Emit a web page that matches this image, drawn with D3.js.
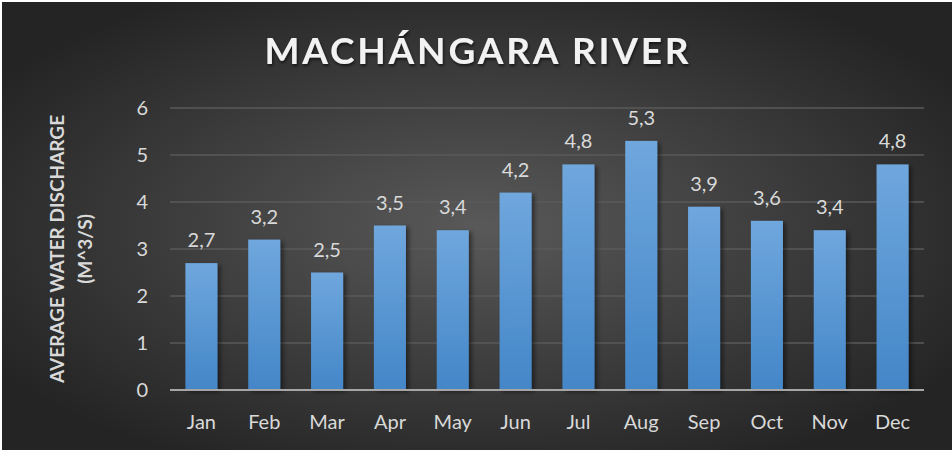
<!DOCTYPE html>
<html>
<head>
<meta charset="utf-8">
<script src="https://cdn.jsdelivr.net/npm/d3@7"></script>
<style>
  body { margin: 0; background: #fff; }
  svg { display: block; }
  text { font-family: Lato, "Open Sans", sans-serif; }
</style>
</head>
<body>
<script>
// data
var months = ["Jan", "Feb", "Mar", "Apr", "May", "Jun", "Jul", "Aug", "Sep", "Oct", "Nov", "Dec"];
var discharge = [2.7, 3.2, 2.5, 3.5, 3.4, 4.2, 4.8, 5.3, 3.9, 3.6, 3.4, 4.8];
var yTicks = [0, 1, 2, 3, 4, 5, 6];

var W = 952, H = 452;
var margin = {top: 108, right: 28, bottom: 62, left: 170};
var width = W - margin.left - margin.right;
var height = H - margin.top - margin.bottom;

var svg = d3.select("body").append("svg")
    .attr("width", W)
    .attr("height", H);

var defs = svg.append("defs");

var bg = defs.append("radialGradient")
    .attr("id", "bg")
    .attr("cx", "50%").attr("cy", "50%").attr("r", "60%");
bg.append("stop").attr("offset", "0%").attr("stop-color", "#595959");
bg.append("stop").attr("offset", "100%").attr("stop-color", "#242424");

var barGrad = defs.append("linearGradient")
    .attr("id", "barGrad")
    .attr("x1", 0).attr("y1", 0).attr("x2", 0).attr("y2", 1);
barGrad.append("stop").attr("offset", "0%").attr("stop-color", "#6fa7dd");
barGrad.append("stop").attr("offset", "100%").attr("stop-color", "#4486c8");

var shadow = defs.append("filter").attr("id", "shadow")
    .attr("x", "-20%").attr("y", "-20%").attr("width", "160%").attr("height", "140%");
shadow.append("feDropShadow")
    .attr("dx", 3).attr("dy", 2).attr("stdDeviation", 2)
    .attr("flood-color", "#000").attr("flood-opacity", 0.45);

var titleShadow = defs.append("filter").attr("id", "tshadow")
    .attr("x", "-10%").attr("y", "-30%").attr("width", "120%").attr("height", "160%");
titleShadow.append("feDropShadow")
    .attr("dx", 1).attr("dy", 2).attr("stdDeviation", 1.5)
    .attr("flood-color", "#000").attr("flood-opacity", 0.6);

svg.append("rect")
    .attr("x", 2).attr("y", 2)
    .attr("width", W - 2).attr("height", H - 4)
    .attr("fill", "url(#bg)");

// title
svg.append("text")
    .attr("x", 478).attr("y", 64)
    .attr("text-anchor", "middle")
    .attr("fill", "#f2f2f2")
    .attr("font-size", 37)
    .attr("font-weight", "bold")
    .attr("letter-spacing", 2.8)
    .attr("filter", "url(#tshadow)")
    .text("MACHÁNGARA RIVER");

var g = svg.append("g")
    .attr("transform", "translate(" + margin.left + "," + margin.top + ")");

var x = d3.scaleBand()
    .domain(months)
    .range([0, width])
    .paddingInner(0.49)
    .paddingOuter(0.245);

var y = d3.scaleLinear()
    .domain([0, 6])
    .range([height, 0]);

// gridlines
g.selectAll(".grid")
    .data(yTicks.filter(function(d) { return d > 0; }))
    .enter().append("line")
    .attr("x1", 0).attr("x2", width)
    .attr("y1", function(d) { return y(d); })
    .attr("y2", function(d) { return y(d); })
    .attr("stroke", "#5a5a5a")
    .attr("stroke-width", 1.3);

// y axis labels
var yAxis = g.append("g")
    .attr("transform", "translate(-22,0)")
    .call(d3.axisLeft(y).tickValues(yTicks).tickFormat(d3.format("d")).tickSize(0).tickPadding(0));
yAxis.select(".domain").remove();
yAxis.selectAll("text")
    .attr("fill", "#d9d9d9")
    .attr("font-size", 20)
    .attr("font-family", "Lato, 'Open Sans', sans-serif");

// bars
g.selectAll(".bar")
    .data(discharge)
    .enter().append("rect")
    .attr("x", function(d, i) { return x(months[i]); })
    .attr("y", function(d) { return y(d); })
    .attr("width", x.bandwidth())
    .attr("height", function(d) { return height - y(d); })
    .attr("fill", "url(#barGrad)")
    .attr("filter", "url(#shadow)");

// data labels
g.selectAll(".lbl")
    .data(discharge)
    .enter().append("text")
    .attr("x", function(d, i) { return x(months[i]) + x.bandwidth() / 2; })
    .attr("y", function(d) { return y(d) - 16; })
    .attr("text-anchor", "middle")
    .attr("fill", "#d9d9d9")
    .attr("font-size", 20)
    .text(function(d) { return String(d).replace(".", ","); });

// baseline
g.append("line")
    .attr("x1", 0).attr("x2", width)
    .attr("y1", height).attr("y2", height)
    .attr("stroke", "#a6a6a6")
    .attr("stroke-width", 2);

// x axis labels
var xAxis = g.append("g")
    .attr("transform", "translate(0," + height + ")")
    .call(d3.axisBottom(x).tickSize(0).tickPadding(25));
xAxis.select(".domain").remove();
xAxis.selectAll("text")
    .attr("fill", "#d9d9d9")
    .attr("font-size", 20)
    .attr("font-family", "Lato, 'Open Sans', sans-serif");

// y axis title
var yt = svg.append("text")
    .attr("transform", "translate(57," + (margin.top + height / 2) + ") rotate(-90)")
    .attr("text-anchor", "middle")
    .attr("fill", "#d9d9d9")
    .attr("font-size", 19)
    .attr("font-weight", "bold");
yt.append("tspan").attr("x", 0).attr("dy", 7).text("AVERAGE WATER DISCHARGE");
yt.append("tspan").attr("x", 0).attr("dy", 28).text("(M^3/S)");
</script>
</body>
</html>
